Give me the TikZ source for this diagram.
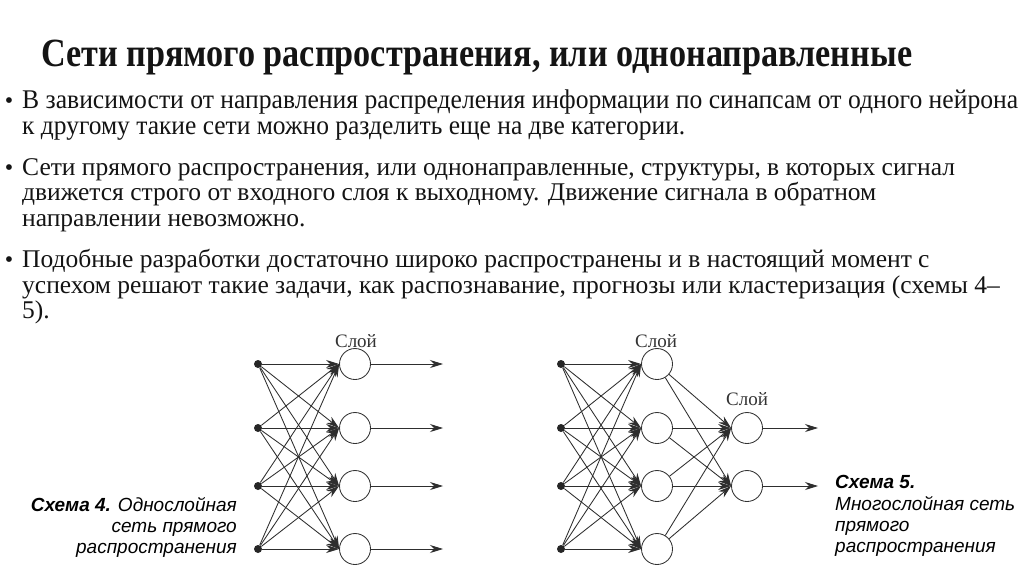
\documentclass[tikz,border=0pt]{standalone}
\usepackage{fontspec}
\usepackage{graphicx}
\setmainfont{Liberation Serif}
\newfontfamily\capfont{Liberation Sans}
\usetikzlibrary{arrows.meta}
\begin{document}
\begin{tikzpicture}[x=1pt,y=-1pt,
  txt/.style={anchor=base west,inner sep=0pt,text=black!92},
  bul/.style={anchor=base,inner sep=0pt,text=black!92},
  dot/.style={circle,fill=black!85,inner sep=0pt,minimum size=8pt},
  neuron/.style={circle,draw=black!80,line width=0.85pt,inner sep=0pt,minimum size=31pt,fill=white},
  conn/.style={draw=black!82,line width=0.85pt,-{Stealth[length=13pt,width=8pt]}},
  layerlbl/.style={anchor=base,inner sep=0pt,text=black!80,font=\fontsize{19}{22}\selectfont},
  capr/.style={anchor=base east,inner sep=0pt,font=\capfont\fontsize{19}{22}\selectfont},
  capl/.style={anchor=base west,inner sep=0pt,font=\capfont\fontsize{19}{22}\selectfont}]
\useasboundingbox (0,0) rectangle (1024,574);
\fill[white] (0,0) rectangle (1024,574);
% title
\node[txt] (title) at (41,66) {\resizebox{871pt}{\height}{\fontsize{40}{44}\selectfont\bfseries Сети прямого распространения, или однонаправленные}};
% bullet 1
\node[bul] (b1) at (9,108) {\fontsize{24}{27}\selectfont •};
\node[txt] (t11) at (22,108) {\resizebox{996pt}{\height}{\fontsize{27}{29}\selectfont В зависимости от направления распределения информации по синапсам от одного нейрона}};
\node[txt] (t12) at (22,134) {\resizebox{663pt}{\height}{\fontsize{27}{29}\selectfont к другому такие сети можно разделить еще на две категории.}};
% bullet 2
\node[bul] (b2) at (9,175) {\fontsize{24}{27}\selectfont •};
\node[txt,font=\fontsize{25.5}{27}\selectfont] (t21) at (22,175) {Сети прямого распространения, или однонаправленные, структуры, в которых сигнал};
\node[txt,font=\fontsize{25.5}{27}\selectfont] (t22) at (22,200) {движется строго от входного слоя к выходному. Движение сигнала в обратном};
\node[txt,font=\fontsize{25.5}{27}\selectfont] (t23) at (22,226) {направлении невозможно.};
% bullet 3
\node[bul] (b3) at (9,267) {\fontsize{24}{27}\selectfont •};
\node[txt,font=\fontsize{25.5}{27}\selectfont] (t31) at (22,267) {Подобные разработки достаточно широко распространены и в настоящий момент с};
\node[txt,font=\fontsize{25.5}{27}\selectfont] (t32) at (22,293) {успехом решают такие задачи, как распознавание, прогнозы или кластеризация (схемы 4–};
\node[txt,font=\fontsize{25.5}{27}\selectfont] (t33) at (22,318) {5).};
% diagram 1
\foreach \i/\y in {1/364,2/428,3/486,4/549}{
  \node[dot] (a\i) at (258,\y) {};
  \node[neuron] (n\i) at (355,\y) {};
  \coordinate (o\i) at (443,\y);
}
\foreach \i in {1,...,4}{\foreach \j in {1,...,4}{\draw[conn] (a\i) -- (n\j.west);}}
\foreach \i in {1,...,4}{\draw[conn] (n\i) -- (o\i);}
\node[layerlbl] (l1) at (356,347) {Слой};
% diagram 2
\foreach \i/\y in {1/364,2/428,3/486,4/549}{
  \node[dot] (p\i) at (561,\y) {};
  \node[neuron] (h\i) at (657,\y) {};
}
\foreach \i/\y in {1/428,2/486}{
  \node[neuron] (q\i) at (747,\y) {};
  \coordinate (r\i) at (818,\y);
}
\foreach \i in {1,...,4}{\foreach \j in {1,...,4}{\draw[conn] (p\i) -- (h\j.west);}}
\foreach \i in {1,...,4}{\foreach \j in {1,2}{\draw[conn] (h\i) -- (q\j.west);}}
\foreach \i in {1,2}{\draw[conn] (q\i) -- (r\i);}
\node[layerlbl] (l2) at (656,347) {Слой};
\node[layerlbl] (l3) at (747,405) {Слой};
% captions
\node[capr] (c41) at (237,511) {\textbf{\textit{Схема 4.}} \textit{Однослойная}};
\node[capr] (c42) at (237,532) {\textit{сеть прямого}};
\node[capr] (c43) at (237,553) {\textit{распространения}};
\node[capl] (c51) at (835,488) {\textbf{\textit{Схема 5.}}};
\node[capl] (c52) at (835,510) {\textit{Многослойная сеть}};
\node[capl] (c53) at (835,531) {\textit{прямого}};
\node[capl] (c54) at (835,552) {\textit{распространения}};
\end{tikzpicture}
\end{document}
